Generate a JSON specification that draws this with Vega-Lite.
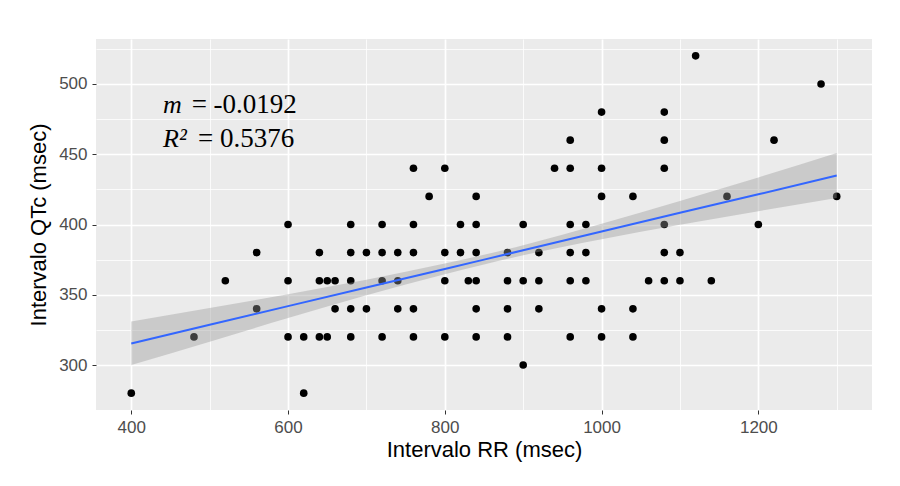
{
  "$schema": "https://vega.github.io/schema/vega-lite/v6.json",
  "width": 776,
  "height": 371,
  "autosize": "none",
  "padding": {"left": 96, "top": 39, "right": 28, "bottom": 76},
  "background": "white",
  "config": {
    "view": {"fill": "#EBEBEB", "stroke": null},
    "font": "Liberation Sans",
    "axis": {
      "gridColor": "white",
      "domain": false,
      "tickColor": "#333333",
      "tickSize": 4,
      "tickWidth": 1,
      "labelColor": "#4D4D4D",
      "labelFontSize": 17,
      "labelFont": "Liberation Sans",
      "titleFont": "Liberation Sans",
      "titleFontSize": 22,
      "titleFontWeight": "normal",
      "titleColor": "#000000"
    }
  },
  "datasets": {
    "pts": [
      {"rr": 400, "qtc": 280},
      {"rr": 480, "qtc": 320},
      {"rr": 520, "qtc": 360},
      {"rr": 560, "qtc": 380}, {"rr": 560, "qtc": 340},
      {"rr": 600, "qtc": 400}, {"rr": 600, "qtc": 360}, {"rr": 600, "qtc": 320},
      {"rr": 620, "qtc": 320}, {"rr": 620, "qtc": 280},
      {"rr": 640, "qtc": 380}, {"rr": 640, "qtc": 360}, {"rr": 640, "qtc": 320},
      {"rr": 650, "qtc": 360}, {"rr": 650, "qtc": 320},
      {"rr": 660, "qtc": 360}, {"rr": 660, "qtc": 340},
      {"rr": 680, "qtc": 400}, {"rr": 680, "qtc": 380}, {"rr": 680, "qtc": 360}, {"rr": 680, "qtc": 340}, {"rr": 680, "qtc": 320},
      {"rr": 700, "qtc": 380}, {"rr": 700, "qtc": 340},
      {"rr": 720, "qtc": 400}, {"rr": 720, "qtc": 380}, {"rr": 720, "qtc": 360}, {"rr": 720, "qtc": 320},
      {"rr": 740, "qtc": 380}, {"rr": 740, "qtc": 360}, {"rr": 740, "qtc": 340},
      {"rr": 760, "qtc": 440}, {"rr": 760, "qtc": 400}, {"rr": 760, "qtc": 380}, {"rr": 760, "qtc": 340}, {"rr": 760, "qtc": 320},
      {"rr": 780, "qtc": 420},
      {"rr": 800, "qtc": 440}, {"rr": 800, "qtc": 380}, {"rr": 800, "qtc": 360}, {"rr": 800, "qtc": 320},
      {"rr": 820, "qtc": 400}, {"rr": 820, "qtc": 380},
      {"rr": 830, "qtc": 360},
      {"rr": 840, "qtc": 420}, {"rr": 840, "qtc": 400}, {"rr": 840, "qtc": 380}, {"rr": 840, "qtc": 360}, {"rr": 840, "qtc": 340}, {"rr": 840, "qtc": 320},
      {"rr": 880, "qtc": 380}, {"rr": 880, "qtc": 360}, {"rr": 880, "qtc": 340}, {"rr": 880, "qtc": 320},
      {"rr": 900, "qtc": 400}, {"rr": 900, "qtc": 360}, {"rr": 900, "qtc": 300},
      {"rr": 920, "qtc": 380}, {"rr": 920, "qtc": 360}, {"rr": 920, "qtc": 340},
      {"rr": 940, "qtc": 440},
      {"rr": 960, "qtc": 460}, {"rr": 960, "qtc": 440}, {"rr": 960, "qtc": 400}, {"rr": 960, "qtc": 380}, {"rr": 960, "qtc": 360}, {"rr": 960, "qtc": 320},
      {"rr": 980, "qtc": 400}, {"rr": 980, "qtc": 380}, {"rr": 980, "qtc": 360},
      {"rr": 1000, "qtc": 480}, {"rr": 1000, "qtc": 440}, {"rr": 1000, "qtc": 420}, {"rr": 1000, "qtc": 340}, {"rr": 1000, "qtc": 320},
      {"rr": 1040, "qtc": 420}, {"rr": 1040, "qtc": 340}, {"rr": 1040, "qtc": 320},
      {"rr": 1060, "qtc": 360},
      {"rr": 1080, "qtc": 480}, {"rr": 1080, "qtc": 460}, {"rr": 1080, "qtc": 440}, {"rr": 1080, "qtc": 400}, {"rr": 1080, "qtc": 380}, {"rr": 1080, "qtc": 360},
      {"rr": 1100, "qtc": 380}, {"rr": 1100, "qtc": 360},
      {"rr": 1120, "qtc": 520},
      {"rr": 1140, "qtc": 360},
      {"rr": 1160, "qtc": 420},
      {"rr": 1200, "qtc": 400},
      {"rr": 1220, "qtc": 460},
      {"rr": 1280, "qtc": 500},
      {"rr": 1300, "qtc": 420}
    ],
    "fit": [
      {"rr": 400, "fit": 315.3, "lo": 300.0, "hi": 331.0},
      {"rr": 500, "fit": 328.6, "lo": 316.6, "hi": 340.6},
      {"rr": 600, "fit": 341.9, "lo": 333.4, "hi": 350.4},
      {"rr": 700, "fit": 355.1, "lo": 349.6, "hi": 360.6},
      {"rr": 800, "fit": 368.4, "lo": 364.6, "hi": 372.2},
      {"rr": 850, "fit": 375.0, "lo": 371.6, "hi": 378.4},
      {"rr": 900, "fit": 381.7, "lo": 378.1, "hi": 385.3},
      {"rr": 1000, "fit": 395.0, "lo": 389.5, "hi": 400.5},
      {"rr": 1100, "fit": 408.3, "lo": 399.8, "hi": 416.8},
      {"rr": 1200, "fit": 421.5, "lo": 409.5, "hi": 433.5},
      {"rr": 1300, "fit": 434.8, "lo": 418.8, "hi": 450.8}
    ],
    "notesItalic": [
      {"rr": 440.5, "qtc": 479.3, "t": "m"},
      {"rr": 440.5, "qtc": 455.1, "t": "R²"}
    ],
    "notesPlain": [
      {"rr": 477, "qtc": 479.3, "t": "= -0.0192"},
      {"rr": 485, "qtc": 455.1, "t": "= 0.5376"}
    ]
  },
  "layer": [
    {
      "data": {"name": "pts"},
      "mark": {"type": "point", "opacity": 0},
      "encoding": {
        "x": {
          "field": "rr", "type": "quantitative",
          "scale": {"domain": [355, 1345], "nice": false, "zero": false},
          "axis": {"orient": "bottom", "values": [500, 700, 900, 1100, 1300], "grid": true, "gridWidth": 0.8, "labels": false, "ticks": false, "title": null}
        },
        "y": {
          "field": "qtc", "type": "quantitative",
          "scale": {"domain": [268, 532], "nice": false, "zero": false},
          "axis": {"orient": "left", "values": [325, 375, 425, 475, 525], "grid": true, "gridWidth": 0.8, "labels": false, "ticks": false, "title": null}
        }
      }
    },
    {
      "data": {"name": "pts"},
      "mark": {"type": "circle", "size": 58, "color": "#000000", "opacity": 1},
      "encoding": {
        "x": {
          "field": "rr", "type": "quantitative",
          "axis": {"orient": "bottom", "values": [400, 600, 800, 1000, 1200], "format": "d", "grid": true, "gridWidth": 1.7, "title": "Intervalo RR (msec)", "labelPadding": 5, "titlePadding": 4}
        },
        "y": {
          "field": "qtc", "type": "quantitative",
          "axis": {"orient": "left", "values": [300, 350, 400, 450, 500], "format": "d", "grid": true, "gridWidth": 1.7, "title": "Intervalo QTc (msec)", "labelPadding": 5, "titlePadding": 8}
        }
      }
    },
    {
      "data": {"name": "fit"},
      "mark": {"type": "area", "color": "#999999", "opacity": 0.4, "interpolate": "monotone"},
      "encoding": {
        "x": {"field": "rr", "type": "quantitative", "axis": null},
        "y": {"field": "lo", "type": "quantitative", "axis": null},
        "y2": {"field": "hi"}
      }
    },
    {
      "data": {"name": "fit"},
      "mark": {"type": "line", "color": "#3366FF", "strokeWidth": 2},
      "encoding": {
        "x": {"field": "rr", "type": "quantitative", "axis": null},
        "y": {"field": "fit", "type": "quantitative", "axis": null}
      }
    },
    {
      "data": {"name": "notesItalic"},
      "mark": {"type": "text", "font": "Liberation Serif", "fontSize": 26, "fontStyle": "italic", "align": "left", "baseline": "alphabetic", "color": "#000000"},
      "encoding": {
        "x": {"field": "rr", "type": "quantitative", "axis": null},
        "y": {"field": "qtc", "type": "quantitative", "axis": null},
        "text": {"field": "t"}
      }
    },
    {
      "data": {"name": "notesPlain"},
      "mark": {"type": "text", "font": "Liberation Serif", "fontSize": 27, "align": "left", "baseline": "alphabetic", "color": "#000000"},
      "encoding": {
        "x": {"field": "rr", "type": "quantitative", "axis": null},
        "y": {"field": "qtc", "type": "quantitative", "axis": null},
        "text": {"field": "t"}
      }
    }
  ],
  "resolve": {"axis": {"x": "independent", "y": "independent"}}
}
